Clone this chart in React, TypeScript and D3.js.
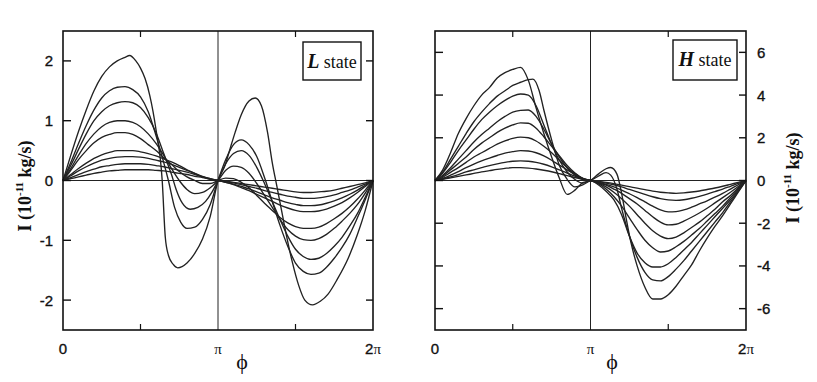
import React, { useRef, useEffect } from 'react'
import * as d3 from 'd3'

type Pt = [number, number]

// phi in units of pi, current I in 1e-11 kg/s

// L state
const lCurve1: Pt[] = [[0, 0], [.05, .42], [.1, .82], [.15, 1.18], [.2, 1.5], [.25, 1.74], [.3, 1.9], [.35, 2.0], [.4, 2.06], [.43, 2.09], [.47, 2.0], [.5, 1.88], [.53, 1.7], [.56, 1.42], [.6, .85], [.64, 0], [.66, -.95], [.68, -1.25], [.71, -1.4], [.74, -1.46], [.8, -1.38], [.85, -1.22], [.9, -.98], [.95, -.6], [1, 0],
  [1.045, .25], [1.08, .55], [1.11, .8], [1.15, 1.1], [1.2, 1.33], [1.24, 1.38], [1.28, 1.25], [1.32, .8], [1.35, .3], [1.38, -.1], [1.41, -.5], [1.44, -.9], [1.48, -1.37], [1.52, -1.75], [1.56, -2.0], [1.61, -2.08], [1.66, -2.02], [1.71, -1.9], [1.77, -1.65], [1.84, -1.3], [1.9, -.9], [1.95, -.5], [2, 0]]
const lCurve2: Pt[] = [[0, 0], [.05, .3], [.1, .62], [.15, .92], [.2, 1.18], [.25, 1.38], [.3, 1.5], [.35, 1.56], [.4, 1.57], [.45, 1.52], [.5, 1.4], [.55, 1.15], [.6, .75], [.65, .3], [.68, 0], [.72, -.45], [.76, -.7], [.8, -.8], [.85, -.78], [.9, -.65], [.95, -.4], [1, 0],
  [1.05, .35], [1.1, .6], [1.15, .68], [1.2, .6], [1.25, .4], [1.3, .05], [1.35, -.35], [1.4, -.75], [1.45, -1.1], [1.5, -1.38], [1.55, -1.52], [1.6, -1.57], [1.65, -1.55], [1.7, -1.45], [1.75, -1.3], [1.8, -1.12], [1.85, -.9], [1.9, -.62], [1.95, -.32], [2, 0]]
const lCurve3: Pt[] = [[0, 0], [.05, .25], [.1, .52], [.15, .78], [.2, 1.0], [.25, 1.15], [.3, 1.25], [.35, 1.3], [.4, 1.32], [.45, 1.3], [.5, 1.22], [.55, 1.05], [.6, .8], [.65, .45], [.7, .1], [.73, -.15], [.77, -.38], [.82, -.48], [.87, -.45], [.92, -.35], [.96, -.2], [1, 0],
  [1.05, .28], [1.1, .45], [1.15, .5], [1.2, .42], [1.25, .22], [1.3, -.05], [1.35, -.35], [1.4, -.65], [1.45, -.93], [1.5, -1.15], [1.55, -1.27], [1.6, -1.32], [1.65, -1.3], [1.7, -1.22], [1.75, -1.1], [1.8, -.95], [1.85, -.76], [1.9, -.55], [1.95, -.28], [2, 0]]
const lCurve4: Pt[] = [[0, 0], [.05, .2], [.1, .42], [.15, .62], [.2, .78], [.25, .9], [.3, .97], [.35, 1.0], [.4, 1.0], [.45, .97], [.5, .9], [.55, .78], [.6, .62], [.65, .42], [.7, .2], [.75, 0], [.8, -.15], [.85, -.22], [.9, -.2], [.95, -.12], [1, 0],
  [1.05, .17], [1.1, .24], [1.15, .22], [1.2, .12], [1.25, -.05], [1.3, -.25], [1.35, -.45], [1.4, -.65], [1.45, -.82], [1.5, -.93], [1.55, -.99], [1.6, -1.0], [1.65, -.97], [1.7, -.9], [1.75, -.8], [1.8, -.68], [1.85, -.55], [1.9, -.4], [1.95, -.21], [2, 0]]
const lCurve5: Pt[] = [[0, 0], [.05, .17], [.1, .35], [.15, .5], [.2, .63], [.25, .72], [.3, .77], [.35, .8], [.4, .8], [.45, .77], [.5, .7], [.55, .6], [.6, .5], [.65, .38], [.7, .27], [.75, .15], [.8, .06], [.85, 0], [.9, -.05], [.95, -.05], [1, 0],
  [1.05, .04], [1.1, .03], [1.15, -.03], [1.2, -.12], [1.25, -.25], [1.3, -.38], [1.35, -.5], [1.4, -.62], [1.45, -.71], [1.5, -.77], [1.55, -.8], [1.6, -.8], [1.65, -.78], [1.7, -.72], [1.75, -.64], [1.8, -.55], [1.85, -.44], [1.9, -.31], [1.95, -.16], [2, 0]]
const lCurve6: Pt[] = [[0, 0], [.05, .1], [.1, .2], [.15, .29], [.2, .37], [.25, .43], [.3, .47], [.35, .5], [.4, .5], [.45, .5], [.5, .48], [.55, .45], [.6, .41], [.65, .36], [.7, .31], [.75, .25], [.8, .18], [.85, .12], [.9, .06], [.95, .02], [1, 0],
  [1.05, -.03], [1.1, -.07], [1.15, -.12], [1.2, -.17], [1.25, -.23], [1.3, -.29], [1.35, -.35], [1.4, -.41], [1.45, -.46], [1.5, -.5], [1.55, -.52], [1.6, -.52], [1.65, -.51], [1.7, -.48], [1.75, -.43], [1.8, -.37], [1.85, -.29], [1.9, -.2], [1.95, -.1], [2, 0]]
const lCurve7: Pt[] = [[0, 0], [.05, .08], [.1, .16], [.15, .23], [.2, .29], [.25, .34], [.3, .37], [.35, .39], [.4, .4], [.45, .4], [.5, .39], [.55, .37], [.6, .34], [.65, .31], [.7, .27], [.75, .22], [.8, .17], [.85, .12], [.9, .07], [.95, .03], [1, 0],
  [1.05, -.03], [1.1, -.06], [1.15, -.1], [1.2, -.14], [1.25, -.19], [1.3, -.24], [1.35, -.29], [1.4, -.33], [1.45, -.37], [1.5, -.4], [1.55, -.42], [1.6, -.42], [1.65, -.41], [1.7, -.38], [1.75, -.34], [1.8, -.29], [1.85, -.23], [1.9, -.16], [1.95, -.08], [2, 0]]
const lCurve8: Pt[] = [[0, 0], [.05, .05], [.1, .1], [.15, .15], [.2, .19], [.25, .23], [.3, .25], [.35, .27], [.4, .28], [.45, .28], [.5, .28], [.55, .27], [.6, .25], [.65, .23], [.7, .2], [.75, .17], [.8, .14], [.85, .1], [.9, .06], [.95, .03], [1, 0],
  [1.05, -.02], [1.1, -.04], [1.15, -.07], [1.2, -.1], [1.25, -.13], [1.3, -.17], [1.35, -.2], [1.4, -.23], [1.45, -.26], [1.5, -.28], [1.55, -.3], [1.6, -.3], [1.65, -.29], [1.7, -.27], [1.75, -.24], [1.8, -.2], [1.85, -.16], [1.9, -.11], [1.95, -.06], [2, 0]]
const lCurve9: Pt[] = [[0, 0], [.05, .03], [.1, .06], [.15, .09], [.2, .12], [.25, .14], [.3, .16], [.35, .17], [.4, .18], [.45, .18], [.5, .18], [.55, .18], [.6, .17], [.65, .16], [.7, .14], [.75, .12], [.8, .1], [.85, .07], [.9, .05], [.95, .02], [1, 0],
  [1.05, -.01], [1.1, -.03], [1.15, -.05], [1.2, -.07], [1.25, -.09], [1.3, -.11], [1.35, -.13], [1.4, -.15], [1.45, -.17], [1.5, -.19], [1.55, -.2], [1.6, -.2], [1.65, -.19], [1.7, -.18], [1.75, -.16], [1.8, -.13], [1.85, -.1], [1.9, -.07], [1.95, -.04], [2, 0]]

// H state
const hCurve1: Pt[] = [[0, 0], [.05, .5], [.1, 1.3], [.15, 2.2], [.2, 2.9], [.25, 3.5], [.3, 4.0], [.35, 4.35], [.4, 4.8], [.45, 5.05], [.5, 5.2], [.55, 5.3], [.6, 4.7], [.65, 3.4], [.7, 2.2], [.75, 1.1], [.8, .1], [.85, -.65], [.9, -.45], [.95, -.1], [1, 0],
  [1.05, .3], [1.1, .55], [1.13, .61], [1.17, .3], [1.2, -.6], [1.23, -1.8], [1.26, -2.9], [1.3, -4.0], [1.35, -5.0], [1.4, -5.55], [1.45, -5.55], [1.5, -5.35], [1.55, -4.95], [1.6, -4.45], [1.65, -3.95], [1.7, -3.3], [1.75, -2.7], [1.8, -2.15], [1.85, -1.65], [1.9, -1.1], [1.95, -.55], [2, 0]]
const hCurve2: Pt[] = [[0, 0], [.05, .4], [.1, 1.0], [.15, 1.6], [.2, 2.2], [.25, 2.75], [.3, 3.2], [.35, 3.6], [.4, 3.95], [.45, 4.2], [.5, 4.45], [.55, 4.6], [.6, 4.72], [.63, 4.75], [.67, 4.2], [.7, 3.3], [.75, 1.9], [.8, .7], [.85, .05], [.9, -.3], [.95, -.2], [1, 0],
  [1.05, .2], [1.1, .37], [1.13, .25], [1.17, -.4], [1.2, -1.3], [1.25, -2.6], [1.3, -3.6], [1.35, -4.3], [1.4, -4.65], [1.45, -4.7], [1.5, -4.5], [1.55, -4.15], [1.6, -3.75], [1.65, -3.3], [1.7, -2.85], [1.75, -2.4], [1.8, -1.95], [1.85, -1.5], [1.9, -1.0], [1.95, -.5], [2, 0]]
const hCurve3: Pt[] = [[0, 0], [.05, .35], [.1, .85], [.15, 1.4], [.2, 1.9], [.25, 2.4], [.3, 2.85], [.35, 3.2], [.4, 3.5], [.45, 3.75], [.5, 3.95], [.55, 4.05], [.6, 4.0], [.65, 3.5], [.7, 2.6], [.75, 1.7], [.8, .95], [.85, .4], [.9, .05], [.95, -.12], [1, 0],
  [1.05, -.2], [1.1, -.5], [1.15, -.9], [1.2, -1.6], [1.25, -2.6], [1.3, -3.4], [1.35, -3.85], [1.4, -4.05], [1.45, -4.05], [1.5, -3.9], [1.55, -3.6], [1.6, -3.25], [1.65, -2.9], [1.7, -2.5], [1.75, -2.1], [1.8, -1.7], [1.85, -1.3], [1.9, -.9], [1.95, -.45], [2, 0]]
const hCurve4: Pt[] = [[0, 0], [.05, .25], [.1, .6], [.15, 1.0], [.2, 1.4], [.25, 1.8], [.3, 2.15], [.35, 2.45], [.4, 2.75], [.45, 3.0], [.5, 3.2], [.55, 3.28], [.6, 3.3], [.65, 3.0], [.7, 2.4], [.75, 1.7], [.8, 1.1], [.85, .6], [.9, .25], [.95, .05], [1, 0],
  [1.05, -.15], [1.1, -.4], [1.15, -.75], [1.2, -1.2], [1.25, -1.75], [1.3, -2.3], [1.35, -2.8], [1.4, -3.15], [1.45, -3.35], [1.5, -3.3], [1.55, -3.1], [1.6, -2.85], [1.65, -2.55], [1.7, -2.25], [1.75, -1.9], [1.8, -1.55], [1.85, -1.2], [1.9, -.8], [1.95, -.4], [2, 0]]
const hCurve5: Pt[] = [[0, 0], [.05, .2], [.1, .5], [.15, .8], [.2, 1.1], [.25, 1.45], [.3, 1.75], [.35, 2.0], [.4, 2.25], [.45, 2.45], [.5, 2.6], [.55, 2.7], [.6, 2.68], [.65, 2.45], [.7, 2.05], [.75, 1.6], [.8, 1.15], [.85, .7], [.9, .35], [.95, .1], [1, 0],
  [1.05, -.12], [1.1, -.3], [1.15, -.55], [1.2, -.85], [1.25, -1.2], [1.3, -1.6], [1.35, -2.0], [1.4, -2.35], [1.45, -2.6], [1.5, -2.72], [1.55, -2.65], [1.6, -2.45], [1.65, -2.2], [1.7, -1.95], [1.75, -1.65], [1.8, -1.35], [1.85, -1.0], [1.9, -.7], [1.95, -.35], [2, 0]]
const hCurve6: Pt[] = [[0, 0], [.05, .15], [.1, .38], [.15, .6], [.2, .85], [.25, 1.1], [.3, 1.3], [.35, 1.5], [.4, 1.7], [.45, 1.85], [.5, 1.97], [.55, 2.03], [.6, 2.0], [.65, 1.85], [.7, 1.6], [.75, 1.3], [.8, .95], [.85, .6], [.9, .32], [.95, .1], [1, 0],
  [1.05, -.1], [1.1, -.22], [1.15, -.4], [1.2, -.6], [1.25, -.85], [1.3, -1.1], [1.35, -1.4], [1.4, -1.7], [1.45, -1.95], [1.5, -2.08], [1.55, -2.05], [1.6, -1.9], [1.65, -1.72], [1.7, -1.52], [1.75, -1.3], [1.8, -1.05], [1.85, -.8], [1.9, -.55], [1.95, -.28], [2, 0]]
const hCurve7: Pt[] = [[0, 0], [.05, .1], [.1, .25], [.15, .42], [.2, .6], [.25, .77], [.3, .92], [.35, 1.05], [.4, 1.17], [.45, 1.28], [.5, 1.35], [.55, 1.4], [.6, 1.38], [.65, 1.3], [.7, 1.15], [.75, .95], [.8, .72], [.85, .5], [.9, .28], [.95, .1], [1, 0],
  [1.05, -.08], [1.1, -.18], [1.15, -.3], [1.2, -.45], [1.25, -.62], [1.3, -.8], [1.35, -1.0], [1.4, -1.2], [1.45, -1.38], [1.5, -1.47], [1.55, -1.46], [1.6, -1.38], [1.65, -1.25], [1.7, -1.1], [1.75, -.95], [1.8, -.78], [1.85, -.6], [1.9, -.4], [1.95, -.2], [2, 0]]
const hCurve8: Pt[] = [[0, 0], [.05, .07], [.1, .17], [.15, .28], [.2, .4], [.25, .5], [.3, .6], [.35, .7], [.4, .78], [.45, .85], [.5, .9], [.55, .92], [.6, .9], [.65, .85], [.7, .76], [.75, .64], [.8, .5], [.85, .35], [.9, .2], [.95, .08], [1, 0],
  [1.05, -.05], [1.1, -.12], [1.15, -.2], [1.2, -.3], [1.25, -.42], [1.3, -.53], [1.35, -.65], [1.4, -.76], [1.45, -.85], [1.5, -.91], [1.55, -.93], [1.6, -.9], [1.65, -.83], [1.7, -.74], [1.75, -.64], [1.8, -.52], [1.85, -.4], [1.9, -.27], [1.95, -.14], [2, 0]]
const hCurve9: Pt[] = [[0, 0], [.05, .05], [.1, .12], [.15, .19], [.2, .26], [.25, .33], [.3, .4], [.35, .46], [.4, .52], [.45, .57], [.5, .6], [.55, .6], [.6, .58], [.65, .54], [.7, .48], [.75, .41], [.8, .32], [.85, .23], [.9, .14], [.95, .06], [1, 0],
  [1.05, -.04], [1.1, -.09], [1.15, -.15], [1.2, -.22], [1.25, -.29], [1.3, -.36], [1.35, -.43], [1.4, -.5], [1.45, -.55], [1.5, -.58], [1.55, -.6], [1.6, -.58], [1.65, -.54], [1.7, -.49], [1.75, -.42], [1.8, -.35], [1.85, -.27], [1.9, -.18], [1.95, -.09], [2, 0]]

const lCurves = [lCurve1, lCurve2, lCurve3, lCurve4, lCurve5, lCurve6, lCurve7, lCurve8, lCurve9]
const hCurves = [hCurve1, hCurve2, hCurve3, hCurve4, hCurve5, hCurve6, hCurve7, hCurve8, hCurve9]

const lTicks = [-2, -1, 0, 1, 2]
const hTicks = [-6, -4, -2, 0, 2, 4, 6]
const phiTicks = [0.5, 1.5]
const phiLabels: [number, string][] = [[0, '0'], [1, 'π'], [2, '2π']]

const sans = "'Liberation Sans', Arial, sans-serif"
const serif = "'Liberation Serif', 'DejaVu Serif', serif"

interface PanelOpts {
  x0: number
  x1: number
  y0: number
  y1: number
  yMax: number
  curves: Pt[][]
  ticks: number[]
  side: 'left' | 'right'
  letter: string
  box: [number, number, number, number]
  phiX: number
}

export default function App() {
  const visEl = useRef<HTMLDivElement>(null)
  const width = 817
  const height = 382

  useEffect(() => {
    const root = d3.select(visEl.current)
    root.selectAll('*').remove()
    const svg = root.append('svg')
      .attr('width', width)
      .attr('height', height)
      .style('position', 'absolute')
      .style('left', 0)
      .style('top', 0)
      .style('background', '#fff')

    const drawPanel = (o: PanelOpts) => {
      const x = d3.scaleLinear().domain([0, 2]).range([o.x0, o.x1])
      const y = d3.scaleLinear().domain([-o.yMax, o.yMax]).range([o.y1, o.y0])
      const g = svg.append('g')

      // zero line and pi line
      g.append('line').attr('x1', o.x0).attr('x2', o.x1).attr('y1', y(0)).attr('y2', y(0))
        .attr('stroke', '#222').attr('stroke-width', 1)
      g.append('line').attr('x1', x(1)).attr('x2', x(1)).attr('y1', o.y0).attr('y2', o.y1)
        .attr('stroke', '#222').attr('stroke-width', 1)

      const line = d3.line<Pt>()
        .x(d => x(d[0]))
        .y(d => y(d[1]))
        .curve(d3.curveMonotoneX)

      g.selectAll('path.curve').data(o.curves).enter().append('path')
        .attr('class', 'curve')
        .attr('d', d => line(d))
        .attr('fill', 'none')
        .attr('stroke', '#222')
        .attr('stroke-width', 1.35)
        .attr('stroke-linejoin', 'round')

      // frame
      g.append('rect')
        .attr('x', o.x0).attr('y', o.y0)
        .attr('width', o.x1 - o.x0).attr('height', o.y1 - o.y0)
        .attr('fill', 'none').attr('stroke', '#111').attr('stroke-width', 1.6)

      // y ticks on both sides, inward
      o.ticks.forEach(t => {
        g.append('line').attr('x1', o.x0).attr('x2', o.x0 + 8).attr('y1', y(t)).attr('y2', y(t))
          .attr('stroke', '#111').attr('stroke-width', 1.4)
        g.append('line').attr('x1', o.x1 - 7).attr('x2', o.x1).attr('y1', y(t)).attr('y2', y(t))
          .attr('stroke', '#111').attr('stroke-width', 1.4)
      })
      phiTicks.forEach(t => {
        g.append('line').attr('x1', x(t)).attr('x2', x(t)).attr('y1', o.y1).attr('y2', o.y1 - 6)
          .attr('stroke', '#111').attr('stroke-width', 1.2)
        g.append('line').attr('x1', x(t)).attr('x2', x(t)).attr('y1', o.y0).attr('y2', o.y0 + 6)
          .attr('stroke', '#111').attr('stroke-width', 1.2)
      })

      // y tick labels
      g.selectAll('text.ytick').data(o.ticks).enter().append('text')
        .attr('class', 'ytick')
        .attr('x', o.side === 'left' ? o.x0 - 10 : o.x1 + 11)
        .attr('y', d => y(d) + 5.5)
        .attr('text-anchor', o.side === 'left' ? 'end' : 'start')
        .attr('font-family', sans)
        .attr('font-size', 15)
        .attr('fill', '#111')
        .attr('stroke', '#111')
        .attr('stroke-width', 0.35)
        .text(d => String(d))

      // phi labels
      phiLabels.forEach(([v, s]) => {
        const t = g.append('text')
          .attr('x', x(v))
          .attr('y', 354)
          .attr('text-anchor', 'middle')
          .attr('fill', '#111')
        if (s === '0') {
          t.attr('font-family', sans).attr('font-size', 15)
            .attr('stroke', '#111').attr('stroke-width', 0.35).text('0')
        } else if (s === 'π') {
          t.attr('font-family', serif).attr('font-size', 15).text('π')
        } else {
          t.append('tspan').attr('font-family', sans).attr('font-size', 15)
            .attr('stroke', '#111').attr('stroke-width', 0.35).text('2')
          t.append('tspan').attr('font-family', serif).attr('font-size', 15).text('π')
        }
      })
      g.append('text')
        .attr('x', o.phiX).attr('y', 369)
        .attr('text-anchor', 'middle')
        .attr('font-family', serif)
        .attr('font-size', 22)
        .attr('fill', '#111')
        .text('ϕ')

      // y axis title
      const lx = o.side === 'left' ? 25 : 793
      const ly = o.side === 'left' ? 186 : 178
      const yt = g.append('text')
        .attr('transform', `translate(${lx},${ly}) rotate(-90)`)
        .attr('text-anchor', 'middle')
        .attr('dy', '0.35em')
        .attr('font-family', serif)
        .attr('font-weight', 'bold')
        .attr('font-size', 18)
        .attr('fill', '#111')
      yt.append('tspan').text('I (10')
      yt.append('tspan').attr('font-size', 11).attr('dy', -8).text('-11')
      yt.append('tspan').attr('dy', 8).text(' kg/s)')

      // state box
      const [bx, by, bw, bh] = o.box
      g.append('rect').attr('x', bx).attr('y', by).attr('width', bw).attr('height', bh)
        .attr('fill', '#fff').attr('stroke', '#111').attr('stroke-width', 1.4)
      const st = g.append('text')
        .attr('x', bx + bw / 2).attr('y', by + 26)
        .attr('text-anchor', 'middle')
        .attr('font-family', serif)
        .attr('fill', '#111')
      st.append('tspan').attr('font-weight', 'bold').attr('font-style', 'italic').attr('font-size', 20).text(o.letter)
      st.append('tspan').attr('font-size', 18).text(' state')
    }

    drawPanel({
      x0: 63, x1: 373, y0: 31, y1: 330, yMax: 2.5,
      curves: lCurves, ticks: lTicks, side: 'left', letter: 'L',
      box: [303, 42, 58, 38], phiX: 242,
    })
    drawPanel({
      x0: 435, x1: 746, y0: 31, y1: 330, yMax: 7,
      curves: hCurves, ticks: hTicks, side: 'right', letter: 'H',
      box: [673, 40, 64, 40], phiX: 612,
    })
  }, [])

  return (
    <div>
      <div ref={visEl}></div>
    </div>
  )
}
